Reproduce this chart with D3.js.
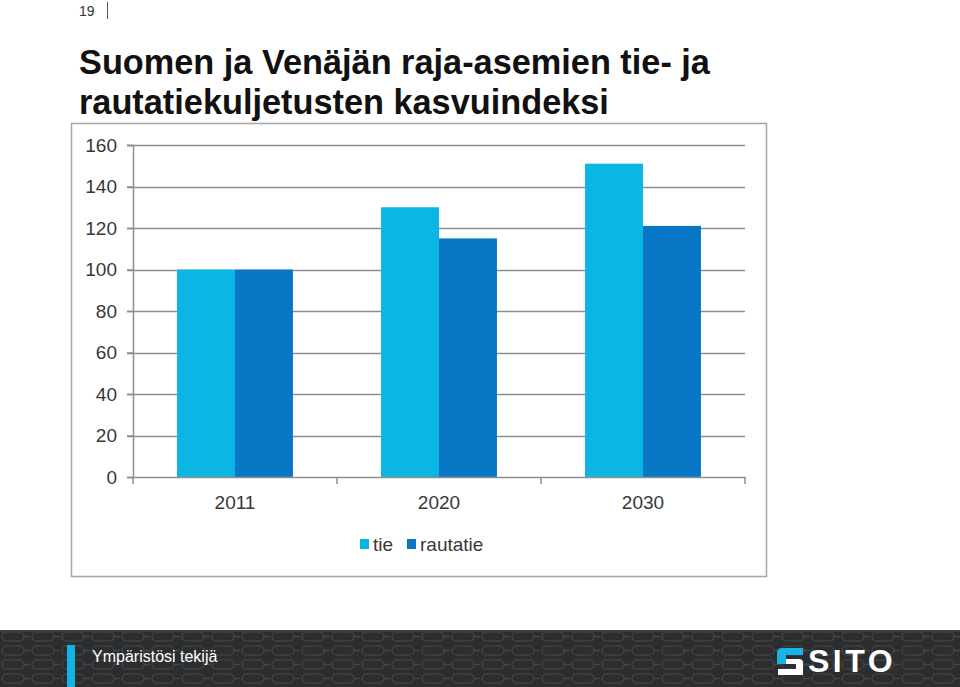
<!DOCTYPE html>
<html><head><meta charset="utf-8">
<script src="https://cdn.jsdelivr.net/npm/d3@7"></script>
<style>
html,body{margin:0;padding:0;background:#fff;}
svg{display:block;}
</style></head>
<body>
<svg id="c" width="960" height="687"></svg>
<script>
const categories = ["2011", "2020", "2030"];
const seriesNames = ["tie", "rautatie"];
const tieValues = [100, 130, 151];
const rautatieValues = [100, 115, 121];
const yTicks = [0, 20, 40, 60, 80, 100, 120, 140, 160];
const seriesColors = ["#0bb6e4", "#0878c6"];
const titleLines = ["Suomen ja Venäjän raja-asemien tie- ja", "rautatiekuljetusten kasvuindeksi"];

const svg = d3.select("#c");
const font = "'Liberation Sans', Arial, sans-serif";

// header
svg.append("text").attr("x", 79).attr("y", 16).attr("font-family", font).attr("font-size", 14).attr("fill", "#333").text("19");
svg.append("line").attr("x1", 107.5).attr("x2", 107.5).attr("y1", 2).attr("y2", 19).attr("stroke", "#555").attr("stroke-width", 1);

svg.selectAll("text.title").data(titleLines).join("text").attr("class", "title")
  .attr("x", 79).attr("y", (d, i) => 74 + i * 40)
  .attr("font-family", font).attr("font-weight", "bold").attr("font-size", 34.3)
  .attr("fill", "#111").text(d => d);

// chart frame
svg.append("rect").attr("x", 71.5).attr("y", 123.5).attr("width", 695).attr("height", 453)
  .attr("fill", "#fff").attr("stroke", "#a6a6a6").attr("stroke-width", 1.5);

const x0 = d3.scaleBand().domain(categories).range([133, 745]).paddingInner(0).paddingOuter(0);
const x1 = d3.scaleBand().domain(seriesNames).range([0, x0.bandwidth()]).paddingInner(0).paddingOuter(0.76);
const y = d3.scaleLinear().domain([0, 160]).range([477, 145]);

const grid = "#8e8e8e";
// gridlines
svg.append("g").selectAll("line").data(yTicks.filter(t => t > 0)).join("line")
  .attr("x1", 127).attr("x2", 745).attr("y1", d => Math.round(y(d)) + 0.5).attr("y2", d => Math.round(y(d)) + 0.5)
  .attr("stroke", grid).attr("stroke-width", 1.5);

// y axis
const yAxis = svg.append("g").attr("transform", "translate(133,0)")
  .call(d3.axisLeft(y).tickValues(yTicks).tickSize(6).tickPadding(10));
yAxis.select(".domain").attr("stroke", grid).attr("stroke-width", 1.5);
yAxis.selectAll(".tick line").attr("stroke", grid).attr("stroke-width", 1.5);
yAxis.selectAll(".tick text").attr("font-family", font).attr("font-size", 19).attr("fill", "#383838");

// bars
const rows = categories.map((c, i) => ({cat: c, vals: [tieValues[i], rautatieValues[i]]}));
const groups = svg.append("g").selectAll("g").data(rows).join("g")
  .attr("transform", d => `translate(${x0(d.cat)},0)`);
groups.selectAll("rect").data(d => d.vals.map((v, j) => ({name: seriesNames[j], v, j}))).join("rect")
  .attr("x", d => x1(d.name)).attr("width", x1.bandwidth())
  .attr("y", d => y(d.v)).attr("height", d => y(0) - y(d.v))
  .attr("fill", d => seriesColors[d.j]);

// x axis
const xAxis = svg.append("g").attr("transform", "translate(0,477)")
  .call(d3.axisBottom(x0).tickSize(0).tickPadding(19));
xAxis.select(".domain").attr("stroke", grid).attr("stroke-width", 1.5);
xAxis.selectAll(".tick text").attr("font-family", font).attr("font-size", 19).attr("fill", "#383838");
svg.append("g").selectAll("line").data([133, ...categories.map(c => x0(c) + x0.bandwidth())]).join("line")
  .attr("x1", d => d).attr("x2", d => d).attr("y1", 477).attr("y2", 484)
  .attr("stroke", grid).attr("stroke-width", 1.5);

// legend
const legendX = [360, 407];
const lg = svg.append("g").selectAll("g").data(seriesNames).join("g")
  .attr("transform", (d, i) => `translate(${legendX[i]},539)`);
lg.append("rect").attr("width", 9).attr("height", 10).attr("fill", (d, i) => seriesColors[i]);
lg.append("text").attr("x", 13).attr("y", 12).attr("font-family", font).attr("font-size", 19).attr("fill", "#383838").text(d => d);

// footer
const defs = svg.append("defs");
const pat = defs.append("pattern").attr("id", "chain").attr("patternUnits", "userSpaceOnUse")
  .attr("width", 30).attr("height", 14).attr("x", 0).attr("y", 630);
pat.append("rect").attr("width", 30).attr("height", 14).attr("fill", "#2c2d2f");
pat.append("rect").attr("x", 2).attr("y", 2).attr("width", 22).attr("height", 9).attr("rx", 4.5)
  .attr("fill", "none").attr("stroke", "#46484b").attr("stroke-width", 1.2);
pat.append("line").attr("x1", 24).attr("x2", 32).attr("y1", 6.5).attr("y2", 6.5).attr("stroke", "#46484b").attr("stroke-width", 1.2);
svg.append("rect").attr("x", 0).attr("y", 630).attr("width", 960).attr("height", 57).attr("fill", "url(#chain)");
svg.append("rect").attr("x", 0).attr("y", 630).attr("width", 960).attr("height", 2).attr("fill", "#3c3d40");
svg.append("rect").attr("x", 67).attr("y", 645).attr("width", 8).attr("height", 42).attr("fill", "#12b4e6");
svg.append("text").attr("x", 92).attr("y", 662).attr("font-family", font).attr("font-size", 16).attr("fill", "#fff").text("Ympäristösi tekijä");

// SITO logo
svg.append("path").attr("d", "M803 648 H782 Q777 648 777 653 V664 H786 V655 H803 Z").attr("fill", "#16b4e6");
svg.append("path").attr("d", "M803 675 V663 Q803 659 799 659 H786 V664 H796 V669 H778 V675 Z").attr("fill", "#fff");
svg.append("text").attr("x", 808).attr("y", 672).attr("font-family", font).attr("font-weight", "bold")
  .attr("font-size", 32).attr("letter-spacing", 3.5).attr("fill", "#fff").text("SITO");
</script>
</body></html>
